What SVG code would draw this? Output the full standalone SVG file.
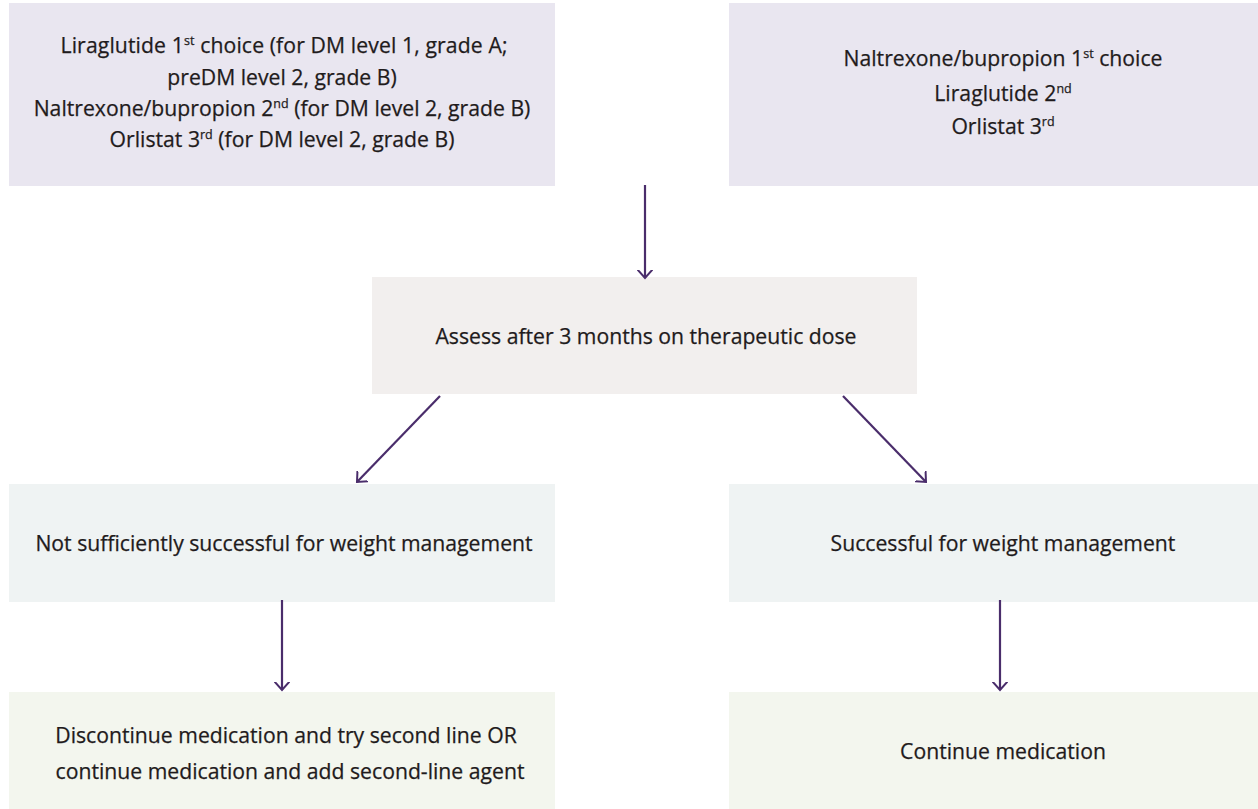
<svg xmlns="http://www.w3.org/2000/svg" width="1258" height="809" viewBox="0 0 1258 809">
<defs>
<marker id="ah" markerWidth="16" markerHeight="16" viewBox="-8 -8 16 16" refX="0" refY="0" orient="auto" markerUnits="userSpaceOnUse">
<path d="M-9,-8 L0,0 L-9,8" fill="none" stroke="#4a2d6b" stroke-width="2"/>
</marker>
</defs>
<style>
text{font-family:"Open Sans","Noto Sans","Liberation Sans",sans-serif;font-size:21.2px;fill:#1f1b1c;text-anchor:middle;stroke:#1f1b1c;stroke-width:0.25px}
.sup{font-size:12.5px}
.c{stroke:#4a2d6b;stroke-width:2.2;fill:none;marker-end:url(#ah)}
.top{fill:#e9e6f0}
.mid{fill:#f2efee}
.res{fill:#eff3f3}
.out{fill:#f3f6ee}
</style>
<rect width="1258" height="809" fill="#ffffff"/>
<g id="node-first-dm">
<rect class="top" x="9" y="3" width="546" height="183"/>
<text x="284" y="53" textLength="447" lengthAdjust="spacing">Liraglutide 1<tspan class="sup" dy="-8">st</tspan><tspan dy="8"> choice (for DM level 1, grade A;</tspan></text>
<text x="282" y="85">preDM level 2, grade B)</text>
<text x="282" y="116">Naltrexone/bupropion 2<tspan class="sup" dy="-8">nd</tspan><tspan dy="8"> (for DM level 2, grade B)</tspan></text>
<text x="282" y="147">Orlistat 3<tspan class="sup" dy="-8">rd</tspan><tspan dy="8"> (for DM level 2, grade B)</tspan></text>
</g>
<g id="node-first-other">
<rect class="top" x="729" y="3" width="529" height="183"/>
<text x="1003" y="66">Naltrexone/bupropion 1<tspan class="sup" dy="-8">st</tspan><tspan dy="8"> choice</tspan></text>
<text x="1003" y="101">Liraglutide 2<tspan class="sup" dy="-8">nd</tspan></text>
<text x="1003" y="134">Orlistat 3<tspan class="sup" dy="-8">rd</tspan></text>
</g>
<g id="node-assess">
<rect class="mid" x="372" y="277" width="545" height="117"/>
<text x="646" y="344">Assess after 3 months on therapeutic dose</text>
</g>
<g id="node-not-success">
<rect class="res" x="9" y="484" width="546" height="118"/>
<text x="284" y="551">Not sufficiently successful for weight management</text>
</g>
<g id="node-success">
<rect class="res" x="729" y="484" width="529" height="118"/>
<text x="1003" y="551">Successful for weight management</text>
</g>
<g id="node-discontinue">
<rect class="out" x="9" y="692" width="546" height="117"/>
<text x="286" y="743">Discontinue medication and try second line OR</text>
<text x="290" y="779">continue medication and add second-line agent</text>
</g>
<g id="node-continue">
<rect class="out" x="729" y="692" width="529" height="117"/>
<text x="1003" y="759">Continue medication</text>
</g>
<g id="connectors">
<line class="c" x1="645" y1="185" x2="645" y2="278"/>
<line class="c" x1="440" y1="396" x2="357" y2="482"/>
<line class="c" x1="843" y1="396" x2="926" y2="482"/>
<line class="c" x1="282" y1="600" x2="282" y2="690"/>
<line class="c" x1="1000" y1="600" x2="1000" y2="690"/>
</g>
</svg>
